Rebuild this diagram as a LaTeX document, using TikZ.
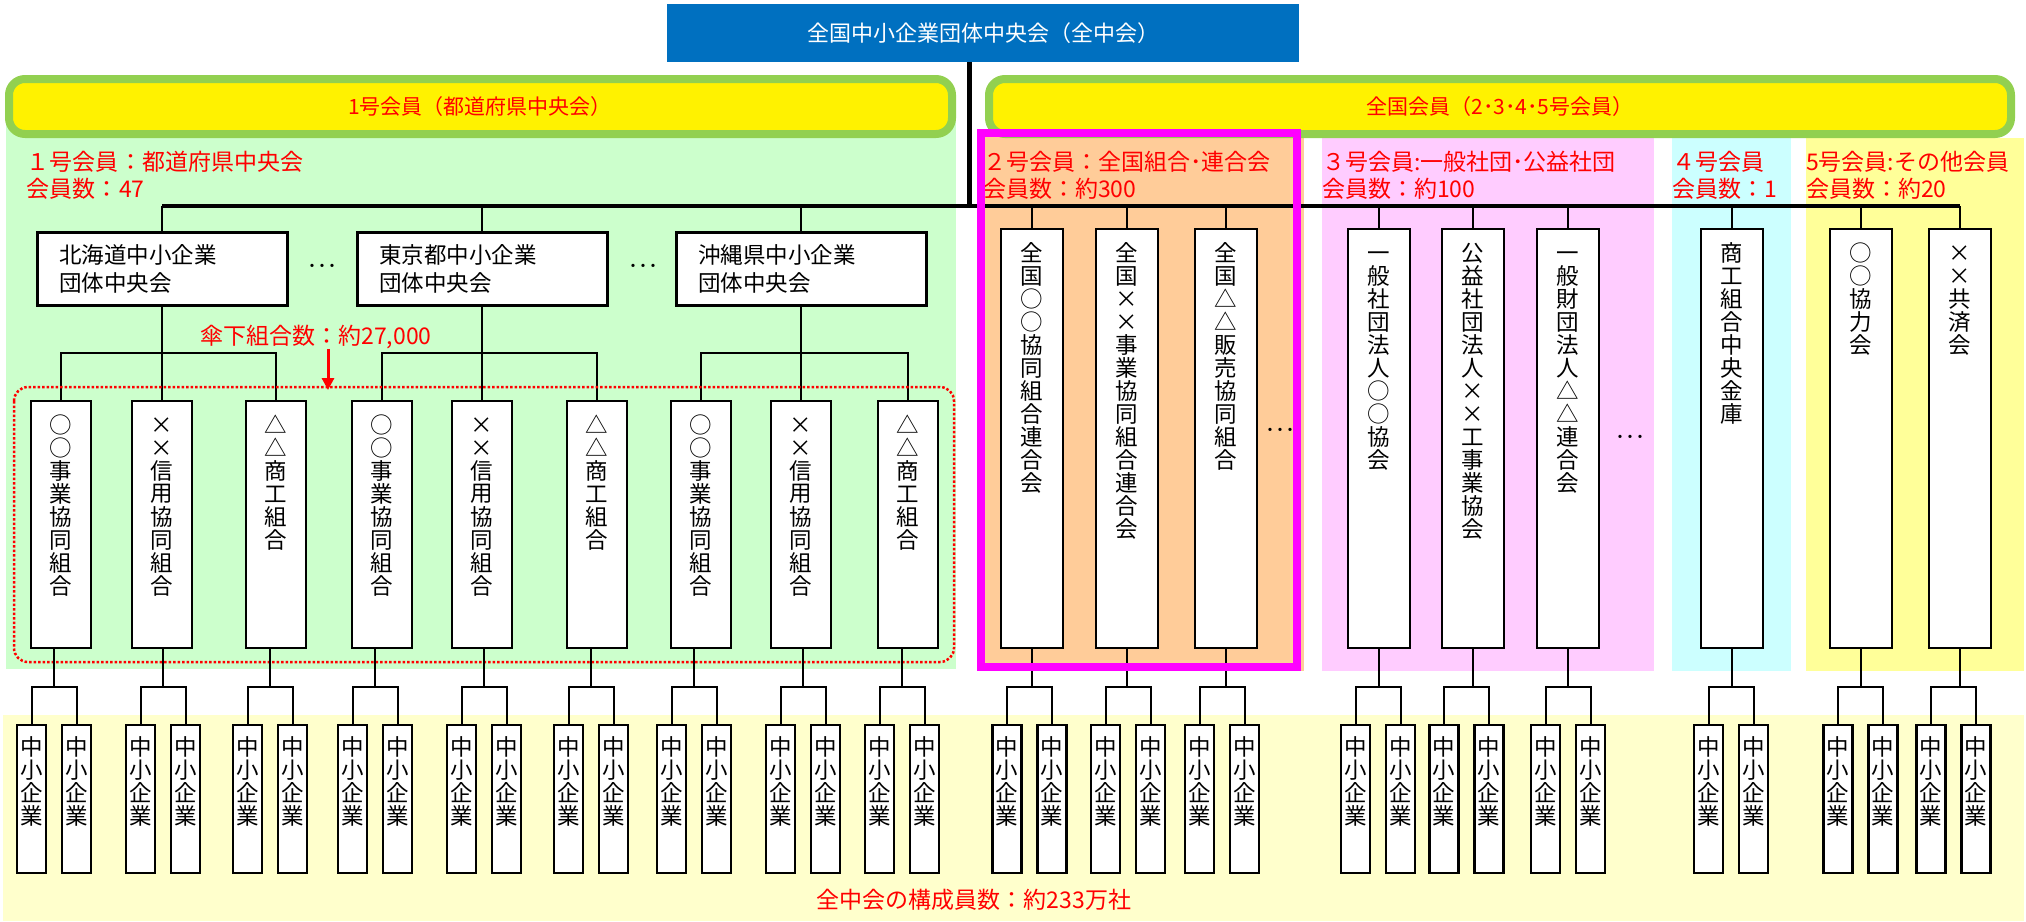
\documentclass[tikz,border=0pt]{standalone}
\usepackage{fontspec}
\setmainfont{Noto Sans CJK JP}
\usetikzlibrary{arrows.meta}
\definecolor{tblue}{HTML}{0070C0}
\definecolor{bgreen}{HTML}{92D050}
\definecolor{lgreen}{HTML}{CCFFCC}
\definecolor{lorange}{HTML}{FFCC99}
\definecolor{lpink}{HTML}{FFCCFF}
\definecolor{lcyan}{HTML}{CCFFFF}
\definecolor{lyel}{HTML}{FFFF99}
\definecolor{pyel}{HTML}{FFFFCC}
\definecolor{mag}{HTML}{FF00FF}
\makeatletter
\newcommand\vtext[1]{\vbox{\offinterlineskip\@tfor\vtc:=#1\do{\hbox to 26pt{\hss\vbox to 23pt{\vss\hbox{\vphantom{国}\vtc}\vss}\hss}}}}
\makeatother
\newcommand\fsz[1]{\fontsize{#1}{#1}\selectfont}
\newcommand\vnode[7]{\node[#1, minimum height=#5pt] (#2) at (#3,#4) {\vbox to #5pt{\vskip #6pt\vtext{#7}\vss}};}
\newcommand\tnode[3]{\vnode{tbox}{#1}{#2}{401}{247}{12.5}{#3}}
\newcommand\rnode[3]{\vnode{rbox}{#1}{#2}{229}{419}{12.5}{#3}}
\newcommand\spair[2]{%
  \coordinate (#1) at (#2,687);
  \vnode{sbox,xshift=-22.5pt}{#1a}{#2}{725}{148}{10.5}{中小企業}
  \vnode{sbox,xshift=22.5pt}{#1b}{#2}{725}{148}{10.5}{中小企業}
  \draw[conn] (#1a.north) |- (#1) -| (#1b.north);}
\begin{document}
\begin{tikzpicture}[x=1pt,y=-1pt,
  every node/.style={inner sep=0pt, outer sep=0pt},
  tbox/.style={draw, line width=2.5pt, fill=white, minimum width=60pt, anchor=north, font=\fsz{22.5}},
  rbox/.style={tbox, minimum width=62pt},
  sbox/.style={draw, line width=2.2pt, fill=white, minimum width=29pt, anchor=north, font=\fsz{22.5}},
  pbox/.style={draw, line width=3pt, fill=white, minimum height=73pt, text width=206pt, inner xsep=22pt, align=left, font=\fontsize{22.5}{28}\selectfont},
  conn/.style={draw, line width=2pt},
  rlbl/.style={text=red, anchor=west, font=\fsz{23}},
  dots/.style={font=\fsz{20}}]
\useasboundingbox (0,0) rectangle (2026,921);
% backgrounds
\fill[pyel] (3,715) rectangle (2024,921);
\fill[lgreen] (6,100) rectangle (956,669);
\fill[lorange] (979,130) rectangle (1304,671);
\fill[lpink] (1322,138) rectangle (1654,671);
\fill[lcyan] (1672,138) rectangle (1791,671);
\fill[lyel] (1806,138) rectangle (2024,671);
% banners
\draw[bgreen, line width=8pt, fill=yellow, rounded corners=16pt] (9,79) rectangle (952,134);
\node[text=red, font=\fsz{21}] (ban1) at (480,107) {1号会員（都道府県中央会）};
\draw[bgreen, line width=8pt, fill=yellow, rounded corners=16pt] (989,79) rectangle (2011,134);
\node[text=red, font=\fsz{21}] (ban2) at (1500,107) {全国会員（2･3･4･5号会員）};
% title
\node[fill=tblue, text=white, minimum width=632pt, minimum height=58pt, font=\fsz{22}] (title) at (983,33) {全国中小企業団体中央会（全中会）};
% labels
\node[rlbl] (l1a) at (27,162) {１号会員：都道府県中央会};
\node[rlbl] (l1b) at (27,189) {会員数：47};
\node[rlbl] (l2a) at (983,162) {２号会員：全国組合･連合会};
\node[rlbl] (l2b) at (983,189) {会員数：約300};
\node[rlbl] (l3a) at (1322,162) {３号会員:一般社団･公益社団};
\node[rlbl] (l3b) at (1322,189) {会員数：約100};
\node[rlbl] (l4a) at (1672,162) {４号会員};
\node[rlbl] (l4b) at (1672,189) {会員数：1};
\node[rlbl] (l5a) at (1806,162) {5号会員:その他会員};
\node[rlbl] (l5b) at (1806,189) {会員数：約20};
% prefecture boxes
\node[pbox] (p1) at (162,268.5) {北海道中小企業\\団体中央会};
\node[pbox] (p2) at (482,268.5) {東京都中小企業\\団体中央会};
\node[pbox] (p3) at (801,268.5) {沖縄県中小企業\\団体中央会};
\node[dots] (d1) at (322,269) {･･･};
\node[dots] (d2) at (643,269) {･･･};
% tall boxes, 1号
\tnode{t1}{61}{○○事業協同組合}
\tnode{t2}{162}{××信用協同組合}
\tnode{t3}{276}{△△商工組合}
\tnode{t4}{382}{○○事業協同組合}
\tnode{t5}{482}{××信用協同組合}
\tnode{t6}{597}{△△商工組合}
\tnode{t7}{701}{○○事業協同組合}
\tnode{t8}{801}{××信用協同組合}
\tnode{t9}{908}{△△商工組合}
% tall boxes, 2-5号
\rnode{r1}{1032}{全国○○協同組合連合会}
\rnode{r2}{1127}{全国××事業協同組合連合会}
\rnode{r3}{1226}{全国△△販売協同組合}
\rnode{r4}{1379}{一般社団法人○○協会}
\rnode{r5}{1473}{公益社団法人××工事業協会}
\rnode{r6}{1568}{一般財団法人△△連合会}
\rnode{r7}{1732}{商工組合中央金庫}
\rnode{r8}{1861}{○○協力会}
\rnode{r9}{1960}{××共済会}
\node[dots] (d3) at (1280,433) {･･･};
\node[dots] (d4) at (1630,440) {･･･};
% top connectors
\coordinate (bus) at (969,206);
\draw[line width=5pt] (title.south -| bus) -- (bus);
\draw[line width=4pt] (p1.north |- bus) -- (r9.north |- bus);
\foreach \n in {p1,p2,p3,r1,r2,r3,r4,r5,r6,r7,r8,r9} \draw[conn] (\n.north |- bus) -- (\n.north);
% prefecture to unions
\coordinate (j1) at (162,353);
\coordinate (j2) at (482,353);
\coordinate (j3) at (801,353);
\draw[conn] (p1.south) -- (t2.north);
\draw[conn] (p2.south) -- (t5.north);
\draw[conn] (p3.south) -- (t8.north);
\draw[conn] (t1.north) |- (j1) -| (t3.north);
\draw[conn] (t4.north) |- (j2) -| (t6.north);
\draw[conn] (t7.north) |- (j3) -| (t9.north);
% red label and arrow
\node[text=red, font=\fsz{23}] (l6) at (316,337) {傘下組合数：約27,000};
\coordinate (arrtip) at (328,390);
\draw[red, line width=3pt, -{Triangle[length=12pt, width=12pt]}] (arrtip |- l6.south) -- (arrtip);
\draw[red, line width=2.5pt, dash pattern=on 2.5pt off 2pt, rounded corners=14pt] (14,387) rectangle (954,662);
% small enterprise pairs
\spair{g1}{54}
\spair{g2}{163}
\spair{g3}{270}
\spair{g4}{375}
\spair{g5}{484}
\spair{g6}{591}
\spair{g7}{694}
\spair{g8}{803}
\spair{g9}{902}
\foreach \i in {1,...,9} \draw[conn] (t\i.south -| g\i) -- (g\i);
\spair{h1}{1029.5}
\spair{h2}{1128}
\spair{h3}{1222}
\spair{h4}{1378}
\spair{h5}{1466.5}
\spair{h6}{1568}
\spair{h7}{1731}
\spair{h8}{1860.5}
\spair{h9}{1953.5}
\foreach \i in {1,...,9} \draw[conn] (r\i.south) -- (r\i.south |- h\i);
% 2号 highlight
\draw[mag, line width=8pt] (981,133) rectangle (1297,667);
% total
\node[text=red, font=\fsz{23}] (tot) at (974,900) {全中会の構成員数：約233万社};
\end{tikzpicture}
\end{document}
